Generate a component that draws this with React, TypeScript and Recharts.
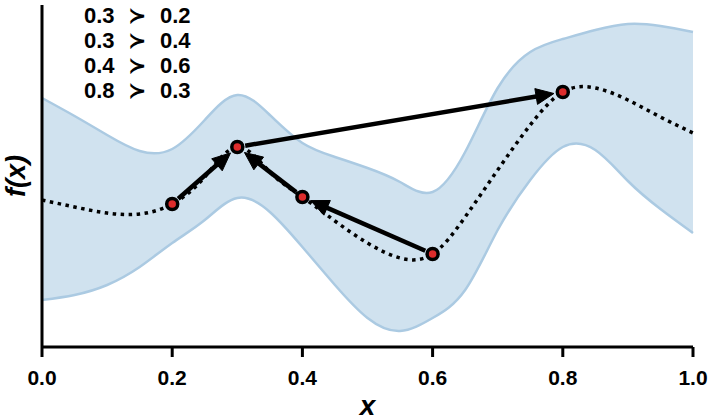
import React from 'react';
import {
  ComposedChart,
  Area,
  Line,
  Scatter,
  XAxis,
  YAxis,
} from 'recharts';

// grid of x positions for the posterior curves
const xs = [0, 0.05, 0.1, 0.15, 0.2, 0.25, 0.3, 0.35, 0.4, 0.45, 0.5, 0.55, 0.6, 0.65, 0.7, 0.75, 0.8, 0.85, 0.9, 0.95, 1.0];
const meanVals = [147, 140, 134, 133, 143, 170, 200, 175, 150, 126, 104, 89, 93, 130, 177, 222, 255, 259, 247, 230, 214];
const upperVals = [249, 231, 212, 196, 198, 227, 252, 232, 204, 190, 179, 165, 155, 195, 259, 295, 308, 317, 323, 321, 315];
const lowerVals = [47, 52, 62, 80, 104, 127, 149, 135, 100, 62, 29, 16, 29, 57, 117, 167, 200, 197, 166, 138, 114];

// evaluated points
const evalX = [0.2, 0.3, 0.4, 0.6, 0.8];
const evalY = [143, 200, 150, 93, 255];

// preference pairs: winner > loser, arrows go loser -> winner
const winners = [0.3, 0.3, 0.4, 0.8];
const losers = [0.2, 0.4, 0.6, 0.3];

const xTicks = [0, 0.2, 0.4, 0.6, 0.8, 1.0];

const curveData = xs.map((x, i) => ({
  x,
  mean: meanVals[i],
  band: [lowerVals[i], upperVals[i]],
}));

const pointData = evalX.map((x, i) => ({ x, y: evalY[i] }));

const yAt = (x: number) => evalY[evalX.indexOf(x)];

const arrowData = winners.map((w, i) => [
  { x: losers[i], y: yAt(losers[i]) },
  { x: w, y: yAt(w) },
]);

const FONT = '"Liberation Sans", Arial, sans-serif';

const renderArrow = (p: any) => {
  if (p.index !== 1 || !p.points || p.points.length < 2) return <g key={p.key} />;
  const a = p.points[0];
  const b = p.points[1];
  const dx = b.x - a.x;
  const dy = b.y - a.y;
  const len = Math.sqrt(dx * dx + dy * dy);
  const ux = dx / len;
  const uy = dy / len;
  const sx = a.x + ux * 8;
  const sy = a.y + uy * 8;
  const tx = b.x - ux * 9;
  const ty = b.y - uy * 9;
  const bx = tx - ux * 18;
  const by = ty - uy * 18;
  const nx = -uy * 8;
  const ny = ux * 8;
  return (
    <g key={p.key}>
      <line x1={sx} y1={sy} x2={bx + ux * 3} y2={by + uy * 3} stroke="#000" strokeWidth={4.5} />
      <polygon
        points={`${tx},${ty} ${bx + nx},${by + ny} ${bx - nx},${by - ny}`}
        fill="#000"
        stroke="#000"
        strokeWidth={1}
        strokeLinejoin="miter"
      />
    </g>
  );
};

const XLabel = (props: any) => {
  const vb = props.viewBox;
  return (
    <text
      x={vb.x + vb.width / 2}
      y={vb.y + 68}
      textAnchor="middle"
      fontFamily={FONT}
      fontSize={28}
      fontWeight="bold"
      fontStyle="italic"
      fill="#000"
    >
      x
    </text>
  );
};

const YLabel = (props: any) => {
  const vb = props.viewBox;
  const cx = 16;
  const cy = vb.y + vb.height / 2;
  return (
    <text
      x={cx}
      y={cy}
      transform={`rotate(-90 ${cx} ${cy})`}
      textAnchor="middle"
      dominantBaseline="central"
      fontFamily={FONT}
      fontSize={27}
      fontWeight="bold"
      fontStyle="italic"
      fill="#000"
    >
      f(x)
    </text>
  );
};

export default function App() {
  return (
    <div style={{ position: 'absolute', left: 0, top: 0, width: 712, height: 420, background: '#fff' }}>
      <ComposedChart width={712} height={420} data={curveData} margin={{ top: 5, right: 19, bottom: 0, left: 0 }}>
        <XAxis
          dataKey="x"
          type="number"
          domain={[0, 1]}
          ticks={xTicks}
          tickFormatter={(v: number) => v.toFixed(1)}
          axisLine={{ stroke: '#000', strokeWidth: 3 }}
          tickLine={{ stroke: '#000', strokeWidth: 3 }}
          tickSize={10}
          tickMargin={13}
          tick={{ fill: '#000', fontSize: 21, fontWeight: 'bold', fontFamily: FONT }}
          height={73}
          label={{ content: <XLabel /> }}
        />
        <YAxis
          type="number"
          domain={[0, 342]}
          tick={false}
          tickLine={false}
          axisLine={{ stroke: '#000', strokeWidth: 3 }}
          width={42}
          label={{ content: <YLabel /> }}
        />
        <Area
          dataKey="band"
          type="natural"
          fill="#d0e2ef"
          fillOpacity={1}
          stroke="#abcae2"
          strokeWidth={2.5}
          isAnimationActive={false}
        />
        <Line
          dataKey="mean"
          type="natural"
          stroke="#000"
          strokeWidth={3.5}
          strokeDasharray="3.5 4.5"
          dot={false}
          isAnimationActive={false}
        />
        {arrowData.map((d, i) => (
          <Line
            key={`arrow-${i}`}
            data={d}
            dataKey="y"
            type="linear"
            stroke="none"
            dot={renderArrow}
            activeDot={false}
            isAnimationActive={false}
          />
        ))}
        <Scatter
          data={pointData}
          dataKey="y"
          isAnimationActive={false}
          shape={(p: any) => (
            <circle cx={p.cx} cy={p.cy} r={5.5} fill="#dd2c2c" stroke="#000" strokeWidth={3.5} />
          )}
        />
      </ComposedChart>
      <div
        style={{
          position: 'absolute',
          left: 84,
          top: 3,
          fontFamily: FONT,
          fontWeight: 'bold',
          fontSize: 22,
          lineHeight: '25px',
          color: '#000',
        }}
      >
        {winners.map((w, i) => (
          <div key={i} style={{ whiteSpace: 'nowrap' }}>
            <span style={{ display: 'inline-block', width: 44 }}>{w.toFixed(1)}</span>
            <span style={{ display: 'inline-block', width: 32, fontFamily: '"DejaVu Sans", sans-serif' }}>≻</span>
            <span>{losers[i].toFixed(1)}</span>
          </div>
        ))}
      </div>
    </div>
  );
}
